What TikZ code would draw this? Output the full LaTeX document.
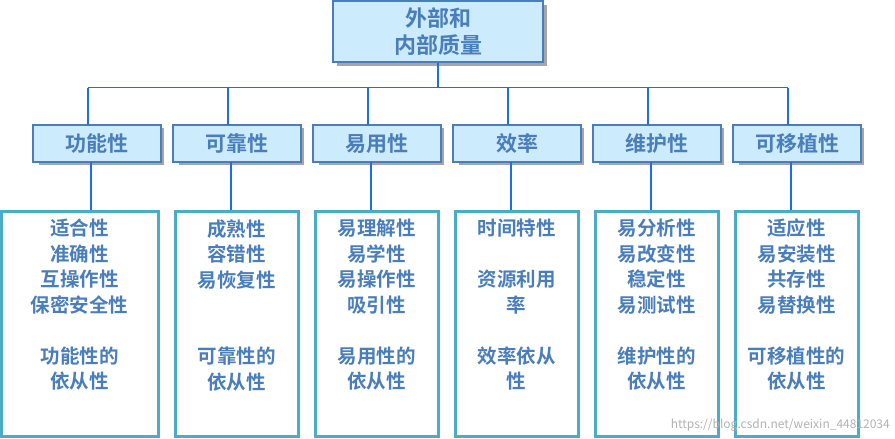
\documentclass[tikz,border=0pt]{standalone}
\usepackage{fontspec}
\setmainfont{Noto Sans CJK SC}[BoldFont={* Bold}]
\begin{document}
\begin{tikzpicture}[x=1pt,y=-1pt,
  txt/.style={text=tcol,font=\bfseries\fontsize{19.5}{25.5}\selectfont,align=center,inner sep=0},
  hbox/.style={draw=hb,line width=1.2pt,fill=fillc,inner sep=0},
  bbox/.style={draw=bb,line width=3pt,fill=white,inner sep=0},
  conn/.style={draw=lc,line width=1.2pt}]
\definecolor{tcol}{HTML}{4A7EBB}
\definecolor{hb}{HTML}{4A7EBB}
\definecolor{fillc}{HTML}{CCEBFC}
\definecolor{bb}{HTML}{4BACC6}
\definecolor{lc}{HTML}{1F6FE0}
\useasboundingbox (0,0) rectangle (895,439);
% top
\fill[gray!70] (337,5) rectangle (547,66);
\node[hbox,minimum width=210,minimum height=61] (top) at (438,31.5) {};
\node[txt,font=\bfseries\fontsize{22}{27}\selectfont] at (top) {外部和\\内部质量};
\coordinate (bus) at (438,87.5);
\draw[conn] (top.south) -- (bus);
\draw[conn] (88,87.5) -- (788,87.5);
\foreach \i/\t/\b in {0/功能性/{适合性\\准确性\\互操作性\\保密安全性\\ \\功能性的\\依从性},
  1/可靠性/{成熟性\\容错性\\易恢复性\\ \\ \\可靠性的\\依从性},
  2/易用性/{易理解性\\易学性\\易操作性\\吸引性\\ \\易用性的\\依从性},
  3/效率/{时间特性\\ \\资源利用\\率\\ \\效率依从\\性},
  4/维护性/{易分析性\\易改变性\\稳定性\\易测试性\\ \\维护性的\\依从性},
  5/可移植性/{适应性\\易安装性\\共存性\\易替换性\\ \\可移植性的\\依从性}}{
  \pgfmathsetmacro{\cx}{97+140*\i}
  \pgfmathsetmacro{\bx}{88+140*\i}
  \pgfmathsetmacro{\bw}{\i==0 ? 157 : 123}
  \pgfmathsetmacro{\bc}{\i==0 ? 79.5 : 96.5+140*\i}
  \fill[gray!70] ({\cx-61+3},{128}) rectangle ({\cx+64+3},165);
  \node[hbox,minimum width=128,minimum height=37] (m\i) at (\cx,143.5) {};
  \node[txt,font=\bfseries\fontsize{21}{24}\selectfont] at (m\i) {\t};
  \coordinate (c\i) at (\bx,87.5);
  \draw[conn] (c\i) -- (\bx,125);
  \node[bbox,minimum width=\bw,minimum height=225] (b\i) at (\bc,323.5) {};
  \node[txt,anchor=north] at (\bc,219) {\b};
}
\foreach \i in {0,...,5}{\pgfmathsetmacro{\lx}{91+140*\i}\draw[conn] (\lx,162) -- (\lx,210);}
\node[text=gray!60,font=\fontsize{12}{14}\selectfont,anchor=south east,inner sep=0] (wm) at (890,432) {https://blog.csdn.net/weixin\_44812034};
\end{tikzpicture}
\end{document}
